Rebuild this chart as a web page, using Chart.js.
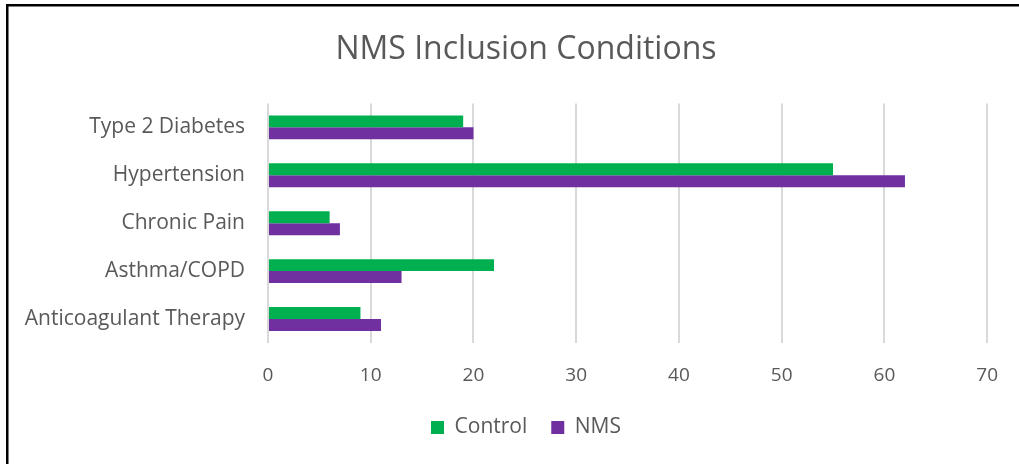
<!DOCTYPE html>
<html>
<head>
<meta charset="utf-8">
<script src="https://cdn.jsdelivr.net/npm/chart.js@4/dist/chart.umd.min.js"></script>
<style>
  html, body { margin: 0; padding: 0; background: #ffffff; }
  #wrap { position: relative; width: 1019px; height: 464px; }
</style>
</head>
<body>
<div id="wrap"><canvas id="chart" width="1019" height="464"></canvas></div>
<script>
// Conditions (top to bottom) and patient counts per group
const categories = ['Type 2 Diabetes', 'Hypertension', 'Chronic Pain', 'Asthma/COPD', 'Anticoagulant Therapy'];
const controlValues = [19, 55, 6, 22, 9];
const nmsValues = [20, 62, 7, 13, 11];
const xTicks = [0, 10, 20, 30, 40, 50, 60, 70];

const FONT = "'Open Sans', 'DejaVu Sans', sans-serif";
const TEXT = '#595959';

// Frame lines along the top and left edges
const framePlugin = {
  id: 'frame',
  beforeDraw(chart) {
    const ctx = chart.ctx;
    ctx.save();
    ctx.fillStyle = '#ffffff';
    ctx.fillRect(0, 0, chart.width, chart.height);
    ctx.fillStyle = '#000000';
    ctx.fillRect(6, 4, chart.width - 6, 2.5);
    ctx.fillRect(6, 4, 2.5, chart.height - 4);
    ctx.restore();
  }
};

// Centre the title and legend under the plot area rather than the whole canvas
const centerPlugin = {
  id: 'centerBlocks',
  afterLayout(chart) {
    const shift = 30;
    [chart.legend, chart.titleBlock].forEach(b => {
      if (b) { b.left += shift; b.right += shift; }
    });
  }
};

new Chart(document.getElementById('chart'), {
  type: 'bar',
  data: {
    labels: categories,
    datasets: [
      { label: 'Control', data: controlValues, backgroundColor: '#00B050', borderWidth: 0 },
      { label: 'NMS', data: nmsValues, backgroundColor: '#7030A0', borderWidth: 0 }
    ]
  },
  options: {
    indexAxis: 'y',
    responsive: false,
    animation: false,
    devicePixelRatio: 1,
    layout: { padding: { left: 0, right: 27, top: 0, bottom: 16 } },
    datasets: { bar: { categoryPercentage: 0.5, barPercentage: 1.0 } },
    scales: {
      x: {
        min: 0, max: 70,
        afterBuildTicks(scale) { scale.ticks = xTicks.map(v => ({ value: v })); },
        grid: { color: '#d9d9d9', lineWidth: 2, drawTicks: false },
        border: { display: false },
        ticks: { color: TEXT, font: { family: FONT, size: 19 }, padding: 21 },
        afterFit(scale) { scale.height = 50; }
      },
      y: {
        grid: { display: false, drawTicks: false },
        border: { display: false },
        ticks: { color: TEXT, font: { family: FONT, size: 21 }, padding: 23 },
        afterFit(scale) { scale.width = 268; }
      }
    },
    plugins: {
      title: {
        display: true,
        text: 'NMS Inclusion Conditions',
        color: TEXT,
        font: { family: FONT, size: 32, weight: 'normal' },
        padding: { top: 31, bottom: 34 }
      },
      legend: {
        position: 'bottom',
        labels: {
          color: TEXT,
          font: { family: FONT, size: 21 },
          boxWidth: 13, boxHeight: 13,
          padding: 24
        }
      },
      tooltip: { enabled: false }
    }
  },
  plugins: [framePlugin, centerPlugin]
});
</script>
</body>
</html>
